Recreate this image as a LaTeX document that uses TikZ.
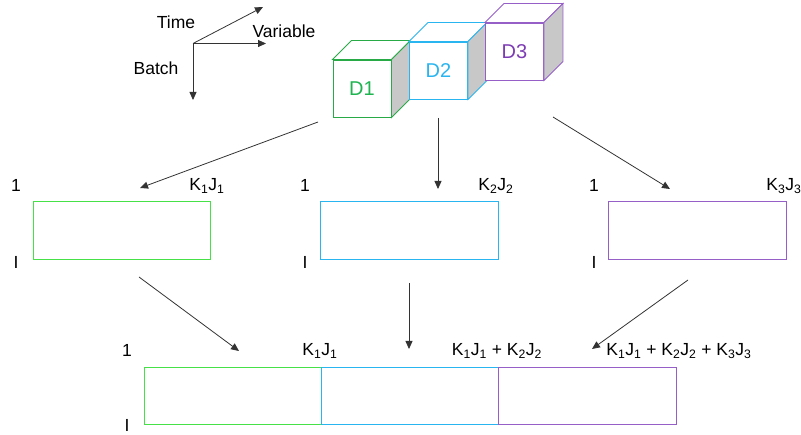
\documentclass[tikz,border=0pt]{standalone}
\usepackage{fontspec}
\setmainfont{Liberation Sans}
\usetikzlibrary{arrows.meta,calc}
\definecolor{gEdge}{RGB}{40,170,70}
\definecolor{gText}{RGB}{30,180,80}
\definecolor{gRect}{RGB}{70,225,70}
\definecolor{bEdge}{RGB}{41,181,239}
\definecolor{pEdge}{RGB}{150,95,200}
\definecolor{pText}{RGB}{125,60,180}
\definecolor{faceGray}{RGB}{200,200,200}
\tikzset{
  lbl/.style={font=\fontsize{17.5}{20}\selectfont, inner sep=0pt},
  dlbl/.style={font=\fontsize{20}{23}\selectfont},
  front/.style={draw=#1, fill=white, line width=0.9pt, minimum width=58pt, minimum height=57pt, inner sep=0pt},
  box/.style={draw=#1, line width=1pt, minimum height=58pt, inner sep=0pt},
  arr/.style={draw=black!80, line width=0.8pt, -{Triangle[length=8pt,width=7pt]}},
}
\newcommand{\cubefaces}[2]{%
  \draw[#2, line width=0.9pt, fill=white] (#1.north west) -- ++(19,-19) -- ($(#1.north east)+(19,-19)$) -- (#1.north east) -- cycle;
  \draw[#2, line width=0.9pt, fill=faceGray] (#1.north east) -- ++(19,-19) -- ($(#1.south east)+(19,-19)$) -- (#1.south east) -- cycle;
}
\begin{document}
\begin{tikzpicture}[x=1pt,y=-1pt]
\useasboundingbox (0,0) rectangle (801,435);
% axes
\coordinate (o) at (193,43.5);
\coordinate (tTime) at (263,7);
\coordinate (tVar) at (266,43.5);
\coordinate (tBatch) at (193,100);
\draw[arr] (o) -- (tTime);
\draw[arr] (o) -- (tVar);
\draw[arr] (o) -- (tBatch);
\node[lbl] (lTime) at (176,22) {Time};
\node[lbl] (lVar) at (284,31) {Variable};
\node[lbl] (lBatch) at (156,68) {Batch};
% cubes
\node[front=gEdge] (c1) at (362,88.5) {};
\cubefaces{c1}{gEdge}
\node[front=bEdge] (c2) at (438.5,70.5) {};
\cubefaces{c2}{bEdge}
\node[front=pEdge] (c3) at (514.5,51.5) {};
\cubefaces{c3}{pEdge}
\node[dlbl, text=gText] (d1) at (c1) {D1};
\node[dlbl, text=bEdge] (d2) at (c2) {D2};
\node[dlbl, text=pText] (d3) at (c3) {D3};
% row 1 boxes
\node[box=gRect, minimum width=177pt] (r1) at (121.5,231) {};
\node[box=bEdge, minimum width=178pt] (r2) at (409,231) {};
\node[box=pEdge, minimum width=178pt] (r3) at (697,231) {};
\node[lbl] (r1one) at (16,185) {1};
\node[lbl] (r2one) at (305,185) {1};
\node[lbl] (r3one) at (594,185) {1};
\node[lbl] (r1I) at (16,262) {I};
\node[lbl] (r2I) at (305,262) {I};
\node[lbl] (r3I) at (594,262) {I};
\node[lbl] (r1k) at (207,186) {K\textsubscript{1}J\textsubscript{1}};
\node[lbl] (r2k) at (496,186) {K\textsubscript{2}J\textsubscript{2}};
\node[lbl] (r3k) at (784,186) {K\textsubscript{3}J\textsubscript{3}};
% arrows cubes -> row 1
\coordinate (s1) at (318,122);
\coordinate (e1) at (140,188);
\coordinate (s2) at (438,118);
\coordinate (e2) at (438,189);
\coordinate (s3) at (553,117);
\coordinate (e3) at (670,189);
\draw[arr] (s1) -- (e1);
\draw[arr] (s2) -- (e2);
\draw[arr] (s3) -- (e3);
% bottom combined boxes
\node[box=gRect, minimum width=177pt, minimum height=57pt] (b1) at (232.5,396.5) {};
\node[box=bEdge, minimum width=177pt, minimum height=57pt] (b2) at (409.5,396.5) {};
\node[box=pEdge, minimum width=178pt, minimum height=57pt] (b3) at (587,396.5) {};
\node[lbl] (bone) at (127,350) {1};
\node[lbl] (bI) at (127,425) {I};
\node[lbl] (bk1) at (320,351) {K\textsubscript{1}J\textsubscript{1}};
\node[lbl] (bk2) at (497,351) {K\textsubscript{1}J\textsubscript{1} + K\textsubscript{2}J\textsubscript{2}};
\node[lbl] (bk3) at (679,351) {K\textsubscript{1}J\textsubscript{1} + K\textsubscript{2}J\textsubscript{2} + K\textsubscript{3}J\textsubscript{3}};
% arrows row 1 -> bottom
\coordinate (u1) at (139,277);
\coordinate (v1) at (239,351);
\coordinate (u2) at (409,283);
\coordinate (v2) at (409,349);
\coordinate (u3) at (688,280);
\coordinate (v3) at (592,349);
\draw[arr] (u1) -- (v1);
\draw[arr] (u2) -- (v2);
\draw[arr] (u3) -- (v3);
\end{tikzpicture}
\end{document}
